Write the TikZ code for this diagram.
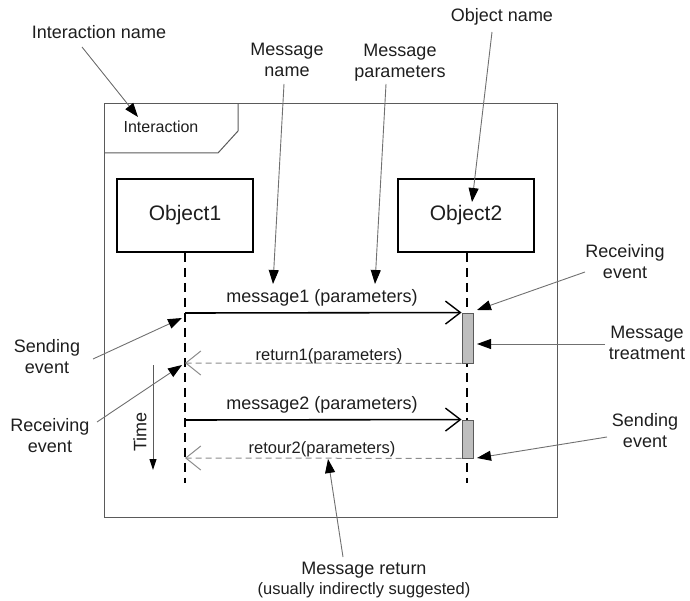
\documentclass[tikz,border=0pt]{standalone}
\usepackage{fontspec}
\setmainfont{Liberation Sans}
\usetikzlibrary{arrows.meta}
\definecolor{txt}{HTML}{1E1E1E}
\definecolor{framec}{HTML}{5A5A5A}
\definecolor{annc}{HTML}{707070}
\definecolor{retc}{HTML}{8C8C8C}
\definecolor{actfill}{HTML}{BEBEBE}
\begin{document}
\begin{tikzpicture}[x=1pt,y=-1pt,
  lbl/.style={font=\fontsize{18}{21}\selectfont, text=txt, align=center, inner sep=0pt},
  msgtxt/.style={font=\fontsize{18}{21}\selectfont, text=txt, inner sep=0pt},
  rettxt/.style={font=\fontsize{16.5}{19}\selectfont, text=txt, inner sep=0pt},
  objbox/.style={draw=black, line width=1.8pt, minimum width=136pt, minimum height=73pt, font=\fontsize{21}{24}\selectfont, text=txt},
  frameline/.style={draw=framec, line width=1pt},
  lifeline/.style={draw=black, line width=1.6pt, dash pattern=on 9pt off 6pt},
  msg/.style={draw=black, line width=1.6pt, -{Straight Barb[length=15pt,width=23pt,line width=1.4pt]}},
  ret/.style={draw=retc, line width=1pt, dash pattern=on 6pt off 4pt, -{Straight Barb[length=15pt,width=24pt,line width=1pt]}},
  ann/.style={draw=annc, line width=0.9pt, -{Triangle[length=14pt,width=10pt,color=black]}},
  act/.style={draw=framec, fill=actfill, line width=0.9pt, minimum width=11pt, inner sep=0pt}
]
\useasboundingbox (0,0) rectangle (690,601);

% frame and tab
\draw[frameline] (104,104) rectangle (557,517);
\draw[frameline] (104,153) -- (218,153) -- (238,131) -- (238,104);
\node[font=\fontsize{16}{19}\selectfont, text=txt, inner sep=0pt] (inter) at (161,127) {Interaction};

% objects
\node[objbox] (obj1) at (185,215.5) {Object1};
\node[objbox] (obj2) at (466,215.5) {Object2};

% lifelines
\coordinate (l1end) at (185,483);
\coordinate (l2end) at (467,483);
\draw[lifeline] (obj1.south) -- (l1end);
\draw[lifeline] (obj1.south -| l2end) -- (l2end);

% activation boxes
\node[act, minimum height=50pt] (act1) at (467.5,338) {};
\node[act, minimum height=38pt] (act2) at (467.5,439) {};

% message coordinates on lifeline 1
\coordinate (m1s) at (185,313);
\coordinate (r1e) at (185,363);
\coordinate (m2s) at (185,420);
\coordinate (r2e) at (185,458);

% messages
\draw[msg] (m1s) -- (act1.north west);
\draw[ret] (act1.south west) -- (r1e);
\draw[msg] (m2s) -- (act2.north west);
\draw[ret] (act2.south west) -- (r2e);

\node[msgtxt] (m1t) at (322,298) {message1 (parameters)};
\node[rettxt] (r1t) at (329,356) {return1(parameters)};
\node[msgtxt] (m2t) at (322,405) {message2 (parameters)};
\node[rettxt] (r2t) at (322,449) {retour2(parameters)};

% time arrow
\coordinate (ts) at (153,365);
\coordinate (te) at (153,470);
\draw[draw=annc!80!black, line width=1pt, -{Triangle[length=11pt,width=7pt,color=black]}] (ts) -- (te);
\node[lbl, rotate=90] (time) at (140,432) {Time};

% annotation labels
\node[lbl] (iname) at (99,32) {Interaction name};
\node[lbl] (mname) at (287,60) {Message\\name};
\node[lbl] (mpar) at (400,63) {Message\\parameters};
\node[lbl] (oname) at (502,17) {Object name};
\node[lbl] (recvR) at (625,262) {Receiving\\event};
\node[lbl] (treat) at (647,343) {Message\\treatment};
\node[lbl] (sendR) at (645,431) {Sending\\event};
\node[lbl] (sendL) at (47,357) {Sending\\event};
\node[lbl] (recvL) at (50,436) {Receiving\\event};
\node[lbl] (mret) at (364,580) {Message return\\[-1pt]{\fontsize{16.5}{19}\selectfont(usually indirectly suggested)}};

% annotation arrow ends
\coordinate (a1s) at (82,47);   \coordinate (a1e) at (138,117);
\coordinate (a2s) at (284,84);  \coordinate (a2e) at (273,284);
\coordinate (a3s) at (386,84);  \coordinate (a3e) at (375,284);
\coordinate (a4s) at (492,32);  \coordinate (a4e) at (472,202);
\coordinate (a5s) at (585,272); \coordinate (a5e) at (477,310);
\coordinate (a6s) at (605,344); \coordinate (a6e) at (477,344);
\coordinate (a7s) at (607,437); \coordinate (a7e) at (477,458);
\coordinate (a8s) at (93,359);  \coordinate (a8e) at (182,318);
\coordinate (a9s) at (97,422);  \coordinate (a9e) at (182,365);
\coordinate (a10s) at (343,557); \coordinate (a10e) at (328,459);

\draw[ann] (a1s) -- (a1e);
\draw[ann] (a2s) -- (a2e);
\draw[ann] (a3s) -- (a3e);
\draw[ann] (a4s) -- (a4e);
\draw[ann] (a5s) -- (a5e);
\draw[ann] (a6s) -- (a6e);
\draw[ann] (a7s) -- (a7e);
\draw[ann] (a8s) -- (a8e);
\draw[ann] (a9s) -- (a9e);
\draw[ann] (a10s) -- (a10e);
\end{tikzpicture}
\end{document}
